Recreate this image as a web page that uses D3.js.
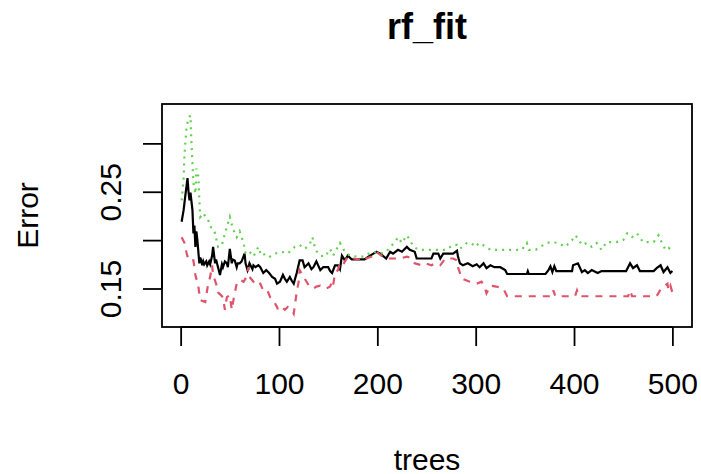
<!DOCTYPE html>
<html>
<head>
<meta charset="utf-8">
<script src="https://cdn.jsdelivr.net/npm/d3@7"></script>
<style>
  html, body { margin: 0; padding: 0; background: #fff; }
  svg text { font-family: "Liberation Sans", Arial, sans-serif; fill: #000; }
</style>
</head>
<body>
<div id="chart"></div>
<script>
// --- data: [trees, error] ---
const oobErr = [
  [1,.219],[3,.231],[5,.248],[7,.264],[8,.250],[9,.241],[10,.249],[12,.231],[13,.207],[14,.215],[15,.193],[16,.209],
  [17,.200],[19,.176],[20,.182],[21,.179],[22,.174],[23,.178],[24,.175],[26,.178],[27,.174],[29,.178],[30,.175],[32,.184],[33,.193],[35,.176],[36,.180],[38,.172],
  [40,.164],[42,.175],[43,.172],[45,.178],[47,.176],[48,.172],[50,.191],[52,.176],[53,.180],[55,.179],[57,.172],[58,.176],[60,.176],[62,.178],
  [65,.186],[66,.176],[68,.169],[70,.176],[73,.170],[74,.174],[76,.172],[79,.174],[81,.172],[84,.166],[87,.169],[90,.166],[93,.162],
  [96,.160],[98,.155],[101,.157],[104,.164],[106,.160],[108,.157],[111,.162],[113,.158],[115,.155],[118,.166],
  [121,.179],[124,.179],[126,.172],[130,.176],[133,.170],[135,.172],[138,.178],[142,.169],[145,.172],[150,.172],
  [152,.168],[154,.166],[157,.174],[160,.174],[162,.170],[164,.184],[167,.179],[170,.184],[174,.180],[187,.180],
  [191,.183],[196,.186],[199,.188],[203,.186],[209,.181],[213,.188],[216,.186],[221,.190],[225,.188],[230,.193],
  [233,.190],[238,.188],[240,.181],[255,.181],[257,.186],[262,.186],[264,.181],[267,.186],[277,.186],[281,.189],
  [282,.183],[284,.176],[287,.174],[292,.176],[297,.173],[301,.175],[304,.172],[308,.176],[311,.171],[315,.174],
  [319,.172],[325,.172],[330,.169],[332,.165],[352,.165],[353,.168],[354,.165],[371,.165],[374,.169],[376,.173],
  [378,.167],[380,.173],[382,.168],[398,.168],[399,.174],[404,.176],[408,.167],[411,.169],[414,.166],[418,.169],
  [424,.166],[428,.168],[453,.168],[457,.176],[460,.171],[464,.174],[467,.168],[481,.168],[484,.171],[488,.174],
  [491,.167],[495,.172],[498,.166],[500,.168]
];
const class1Err = [
  [1,.203],[4,.197],[6,.187],[8,.179],[13,.179],[15,.164],[18,.152],[20,.138],[25,.136],[28,.155],
  [30,.162],[32,.174],[33,.164],[37,.152],[38,.146],[43,.141],[45,.128],[47,.141],[50,.143],[52,.128],
  [54,.140],[57,.155],[60,.159],[64,.157],[67,.162],[69,.172],[70,.162],[74,.157],[77,.153],[81,.155],
  [84,.148],[87,.145],[89,.146],[91,.141],[94,.138],[98,.131],[99,.128],[103,.131],[106,.128],[109,.131],
  [113,.128],[115,.124],[118,.146],[120,.157],[121,.169],[125,.162],[128,.157],[131,.152],[135,.150],[138,.152],
  [142,.153],[145,.152],[148,.150],[152,.152],[154,.157],[155,.153],[157,.166],[160,.169],[162,.176],[165,.174],
  [167,.178],[170,.183],[176,.181],[182,.180],[186,.178],[189,.181],[194,.183],[199,.188],[204,.184],[209,.181],
  [216,.181],[223,.181],[230,.183],[235,.181],[238,.176],[245,.174],[249,.176],[255,.174],[259,.176],[264,.174],
  [269,.181],[277,.181],[281,.179],[282,.172],[284,.166],[286,.160],[289,.159],[294,.157],[301,.155],[306,.157],
  [309,.152],[311,.145],[315,.153],[321,.152],[328,.150],[332,.142],[378,.142],[379,.148],[381,.142],[401,.142],
  [403,.148],[405,.142],[455,.142],[457,.148],[459,.142],[484,.142],[488,.149],[491,.152],[495,.155],[496,.148],
  [498,.153],[500,.146]
];
const class2Err = [
  [1,.241],[3,.264],[4,.290],[6,.317],[8,.326],[10,.329],[11,.300],[13,.259],[15,.248],[16,.274],
  [18,.266],[19,.241],[20,.224],[23,.228],[26,.223],[28,.221],[30,.214],[33,.212],[35,.207],[38,.193],
  [42,.195],[45,.207],[48,.217],[50,.224],[53,.212],[57,.203],[60,.209],[64,.197],[66,.186],[70,.188],
  [74,.183],[79,.193],[82,.184],[87,.186],[91,.183],[96,.186],[103,.188],[108,.186],[111,.188],[116,.193],
  [121,.195],[126,.191],[131,.195],[134,.203],[137,.190],[142,.184],[147,.183],[152,.191],[155,.184],[162,.197],
  [167,.188],[172,.184],[179,.183],[186,.183],[191,.186],[196,.188],[203,.186],[209,.188],[213,.193],[218,.198],
  [221,.203],[225,.197],[230,.205],[233,.200],[237,.193],[242,.190],[270,.190],[277,.195],[281,.195],[284,.191],
  [291,.197],[296,.197],[299,.193],[304,.197],[309,.194],[315,.190],[347,.190],[352,.197],[354,.190],[361,.190],
  [372,.197],[377,.198],[384,.197],[391,.193],[398,.200],[401,.205],[404,.202],[408,.195],[413,.197],[418,.193],
  [423,.197],[428,.190],[433,.198],[437,.198],[443,.198],[450,.200],[454,.207],[459,.203],[464,.207],[467,.203],
  [470,.198],[475,.198],[481,.198],[486,.205],[488,.200],[493,.190],[496,.192],[500,.190]
];
const xTicks = [0, 100, 200, 300, 400, 500];
const yTicks = [0.15, 0.20, 0.25, 0.30];
const yTickLabels = ["0.15", "", "0.25", ""];

// --- layout ---
const width = 701, height = 474;
const box = { left: 162, right: 692, top: 104, bottom: 327 };

const svg = d3.select("#chart").append("svg")
  .attr("width", width)
  .attr("height", height);

const x = d3.scaleLinear().domain([-18.96, 519.96]).range([box.left, box.right]);
const y = d3.scaleLinear().domain([0.1102, 0.3407]).range([box.bottom, box.top]);

const line = d3.line().x(d => x(d[0])).y(d => y(d[1]));

// series, drawn in matplot order
const series = [
  { data: oobErr, color: "#000000", dash: null },
  { data: class1Err, color: "#DF536B", dash: "7,7" },
  { data: class2Err, color: "#61D04F", dash: "2,5" }
];
series.forEach(s => {
  svg.append("path")
    .datum(s.data)
    .attr("d", line)
    .attr("fill", "none")
    .attr("stroke", s.color)
    .attr("stroke-width", 2.2)
    .attr("stroke-dasharray", s.dash);
});

// frame
svg.append("rect")
  .attr("x", box.left).attr("y", box.top)
  .attr("width", box.right - box.left).attr("height", box.bottom - box.top)
  .attr("fill", "none").attr("stroke", "#000").attr("stroke-width", 1.8);

// axes
const xAxis = d3.axisBottom(x).tickValues(xTicks).tickSize(19).tickFormat(d3.format("d"));
const gx = svg.append("g").attr("transform", `translate(0,${box.bottom})`).call(xAxis);
gx.select(".domain").attr("d", `M${x(0)},0H${x(500)}`).attr("stroke-width", 1.8);
gx.selectAll(".tick line").attr("stroke-width", 1.8);
gx.selectAll(".tick text")
  .attr("font-size", 30).attr("font-family", "Liberation Sans, Arial, sans-serif")
  .attr("y", 67).attr("dy", null);

const yAxis = d3.axisLeft(y).tickValues(yTicks).tickSize(19).tickFormat((d, i) => yTickLabels[i]);
const gy = svg.append("g").attr("transform", `translate(${box.left},0)`).call(yAxis);
gy.select(".domain").attr("d", `M0,${y(0.15)}V${y(0.30)}`).attr("stroke-width", 1.8);
gy.selectAll(".tick line").attr("stroke-width", 1.8);
gy.selectAll(".tick text")
  .attr("font-size", 30).attr("font-family", "Liberation Sans, Arial, sans-serif")
  .attr("x", 0).attr("dy", null)
  .attr("text-anchor", "middle")
  .attr("transform", "translate(-41,0) rotate(-90)");

// titles
svg.append("text")
  .attr("x", (box.left + box.right) / 2).attr("y", 39)
  .attr("text-anchor", "middle")
  .attr("font-size", 36).attr("font-weight", "bold")
  .text("rf_fit");

svg.append("text")
  .attr("x", (box.left + box.right) / 2).attr("y", 470)
  .attr("text-anchor", "middle")
  .attr("font-size", 30)
  .text("trees");

svg.append("text")
  .attr("transform", `translate(38,${(box.top + box.bottom) / 2}) rotate(-90)`)
  .attr("text-anchor", "middle")
  .attr("font-size", 30)
  .text("Error");
</script>
</body>
</html>
